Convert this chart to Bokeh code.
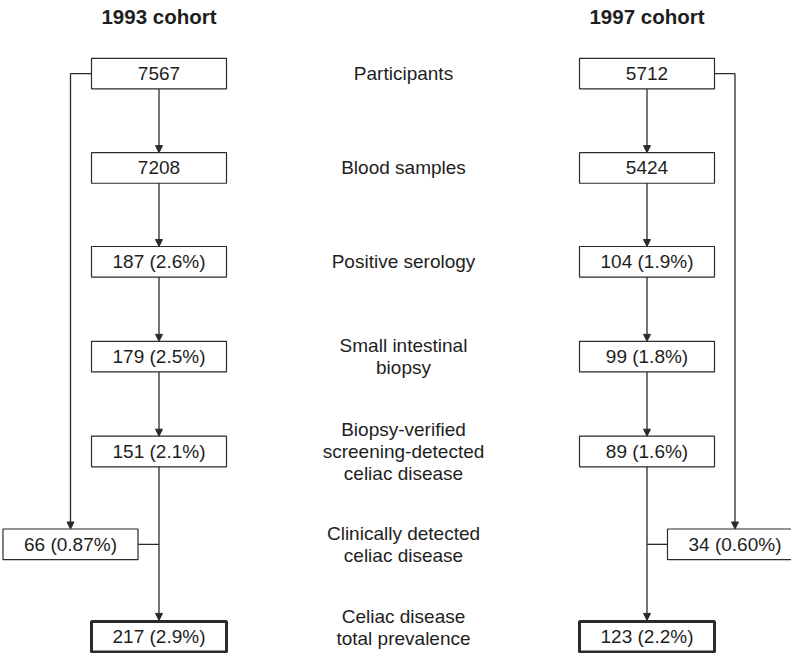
from bokeh.plotting import figure
from bokeh.models import Range1d, Arrow, NormalHead
from bokeh.core.properties import value
from bokeh.embed import file_html
from bokeh.resources import INLINE

# ---- data ----
stages = [
    "Participants",
    "Blood samples",
    "Positive serology",
    "Small intestinal\nbiopsy",
    "Biopsy-verified\nscreening-detected\nceliac disease",
    "Clinically detected\nceliac disease",
    "Celiac disease\ntotal prevalence",
]
cohorts = ["1993 cohort", "1997 cohort"]
n_1993 = [7567, 7208, 187, 179, 151, 66, 217]
pct_1993 = ["", "", "2.6", "2.5", "2.1", "0.87", "2.9"]
n_1997 = [5712, 5424, 104, 99, 89, 34, 123]
pct_1997 = ["", "", "1.9", "1.8", "1.6", "0.60", "2.2"]

def fmt(n, p):
    return f"{n} ({p}%)" if p else f"{n}"

lab_1993 = [fmt(n, p) for n, p in zip(n_1993, pct_1993)]
lab_1997 = [fmt(n, p) for n, p in zip(n_1997, pct_1997)]

# ---- layout (pixel-like coordinates) ----
row_y = [80, 175.5, 270.5, 366.5, 462.5, 556.5, 650]
label_y = row_y[:-1] + [641]   # last label lifted so it stays inside the canvas
col_x = [166.5, 654.5]
side_x = [78, 742.5]      # clinically detected branch
mid_x = 411
bw, bh = 135, 31
FONT = value("Liberation Sans")
LINE = "#2b2b2b"
TXT = "#1e1e1e"

p = figure(width=791, height=653, x_range=Range1d(8, 799), y_range=Range1d(667, 6),
           output_backend="svg", toolbar_location=None, min_border=0,
           background_fill_color="white", border_fill_color="white")
p.axis.visible = False
p.grid.visible = False
p.outline_line_color = None

def box(cx, cy, lw=1.2):
    p.quad(left=[cx - bw / 2], right=[cx + bw / 2], top=[cy - bh / 2], bottom=[cy + bh / 2],
           fill_color="white", line_color=LINE, line_width=lw)

def seg(xs, ys):
    p.line(xs, ys, line_color=LINE, line_width=1.3)

def arrow(x0, y0, x1, y1):
    p.add_layout(Arrow(end=NormalHead(size=7, fill_color=LINE, line_color=LINE, line_width=1),
                       x_start=x0, y_start=y0, x_end=x1, y_end=y1,
                       line_color=LINE, line_width=1.3))

for ci, (cx, sx, labs) in enumerate(zip(col_x, side_x, [lab_1993, lab_1997])):
    # main vertical chain
    for i in range(4):
        arrow(cx, row_y[i] + bh / 2, cx, row_y[i + 1] - bh / 2)
    arrow(cx, row_y[4] + bh / 2, cx, row_y[6] - bh / 2 - 1)
    # side branch from participants to clinically detected
    edge = cx - bw / 2 if ci == 0 else cx + bw / 2
    seg([edge, sx], [row_y[0], row_y[0]])
    arrow(sx, row_y[0], sx, row_y[5] - bh / 2)
    # connector from clinically detected box to main line
    sedge = sx + bw / 2 if ci == 0 else sx - bw / 2
    seg([sedge, cx], [row_y[5], row_y[5]])

    # boxes
    xs = [cx] * 5 + [sx] + [cx]
    for i, (bx, by) in enumerate(zip(xs, row_y)):
        box(bx, by, lw=3 if i == 6 else 1.2)
    p.text(x=xs, y=row_y, text=labs, text_align="center", text_baseline="middle",
           text_font=FONT, text_font_size="19px", text_color=TXT)

    p.text(x=[cx], y=[22], text=[cohorts[ci]], text_align="center", text_baseline="middle",
           text_font=FONT, text_font_size="20.5px", text_font_style="bold", text_color=TXT)

# stage labels in the middle
p.text(x=[mid_x] * len(stages), y=label_y, text=stages, text_align="center",
       text_baseline="middle", text_font=FONT, text_font_size="19px",
       text_line_height=1.03, text_color=TXT)

open("out.html", "w").write(file_html(p, INLINE))
